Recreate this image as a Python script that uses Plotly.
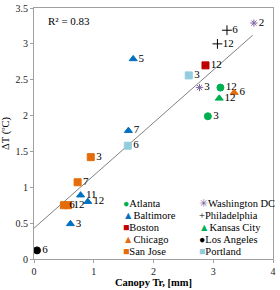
import numpy as np
import plotly.graph_objects as go

# ---- data ----
cities = ["Atlanta", "Baltimore", "Boston", "Chicago", "San Jose",
          "Washington DC", "Philadelphia", "Kansas City", "Los Angeles", "Portland"]

atlanta_x = [3.12, 2.91]
atlanta_y = [2.39, 1.99]
atlanta_lbl = ["12", "3"]

baltimore_x = [1.66, 1.58, 0.78, 0.90, 0.61]
baltimore_y = [2.79, 1.79, 0.89, 0.80, 0.49]
baltimore_lbl = ["5", "7", "11", "12", "3"]

boston_x = [2.87]
boston_y = [2.70]
boston_lbl = ["12"]

chicago_x = [3.35]
chicago_y = [2.32]
chicago_lbl = ["6"]

sanjose_x = [0.95, 0.73, 0.50, 0.57]
sanjose_y = [1.42, 1.07, 0.75, 0.75]
sanjose_lbl = ["3", "7", "6", "12"]

washington_x = [3.68, 2.77]
washington_y = [3.29, 2.39]
washington_lbl = ["2", "3"]

philadelphia_x = [3.23, 3.07]
philadelphia_y = [3.19, 3.00]
philadelphia_lbl = ["6", "12"]

kansas_x = [3.10]
kansas_y = [2.24]
kansas_lbl = ["12"]

losangeles_x = [0.05]
losangeles_y = [0.12]
losangeles_lbl = ["6"]

portland_x = [2.59, 1.57]
portland_y = [2.56, 1.58]
portland_lbl = ["3", "6"]

# linear trendline as shown in the reference
trend_slope = 0.735
trend_intercept = 0.43
trend_x_range = [0.0, 3.66]

r2_text = "R² = 0.83"
x_ticks = [0, 1, 2, 3, 4]
y_ticks = [0, 0.5, 1, 1.5, 2, 2.5, 3, 3.5]

# ---- styles ----
series = [
    ("Atlanta", atlanta_x, atlanta_y, atlanta_lbl, "circle", "#00B050", 7, "●"),
    ("Baltimore", baltimore_x, baltimore_y, baltimore_lbl, "triangle-up", "#0070C0", 7, "▲"),
    ("Boston", boston_x, boston_y, boston_lbl, "square", "#C00000", 7, "■"),
    ("Chicago", chicago_x, chicago_y, chicago_lbl, "triangle-up", "#E46C0A", 7, "▲"),
    ("San Jose", sanjose_x, sanjose_y, sanjose_lbl, "square", "#E46C0A", 7, "■"),
    ("Washington DC", washington_x, washington_y, washington_lbl, "asterisk-open", "#8064A2", 6, "✳"),
    ("Philadelphia", philadelphia_x, philadelphia_y, philadelphia_lbl, "cross-thin-open", "#000000", 7, "+"),
    ("Kansas City", kansas_x, kansas_y, kansas_lbl, "triangle-up", "#00B050", 7, "▲"),
    ("Los Angeles", losangeles_x, losangeles_y, losangeles_lbl, "circle", "#000000", 7, "●"),
    ("Portland", portland_x, portland_y, portland_lbl, "square", "#93CDDD", 7, "■"),
]

FONT = "Liberation Serif"
fig = go.Figure()

tx = np.array(trend_x_range)
fig.add_trace(go.Scatter(x=tx, y=trend_slope * tx + trend_intercept, mode="lines",
                         line=dict(color="#808080", width=1), showlegend=False,
                         hoverinfo="skip"))

for name, xs, ys, lbl, sym, col, size, glyph in series:
    fig.add_trace(go.Scatter(
        x=xs, y=ys, text=lbl, mode="markers+text", name=name,
        textposition="middle right",
        textfont=dict(family=FONT, size=11, color="#000000"),
        marker=dict(symbol=sym, color=col, size=size,
                    line=dict(color=col, width=1)),
        showlegend=False))

# legend built as text annotations in two columns
col_x = [(121 - 34) / 239, (197 - 34) / 239]
row_y = [203, 215.5, 227.5, 239.5, 251.5]
for i, (name, xs, ys, lbl, sym, col, size, glyph) in enumerate(series):
    c = i // 5
    r = i % 5
    fig.add_annotation(
        xref="paper", yref="paper", x=col_x[c], y=(258.5 - row_y[r]) / 250,
        xanchor="left", yanchor="middle", showarrow=False,
        text=f'<span style="color:{col}">{glyph}</span>{name}',
        font=dict(family=FONT, size=10.5, color="#000000"))

fig.add_annotation(xref="paper", yref="paper", x=(46 - 34) / 239, y=(258.5 - 21) / 250,
                   xanchor="left", yanchor="middle", showarrow=False,
                   text=r2_text, font=dict(family=FONT, size=11, color="#000000"))

axis_common = dict(showgrid=False, zeroline=False, showline=True, linecolor="#A0A0A0",
                   linewidth=1, mirror=True, ticks="outside", ticklen=3, automargin=False,
                   tickcolor="#A0A0A0", tickfont=dict(family=FONT, size=10, color="#222222"))

fig.update_xaxes(range=[0, 4], tickvals=x_ticks, ticktext=[str(v) for v in x_ticks],
                 title=dict(text="<b>Canopy Tr, [mm]</b>", standoff=2,
                            font=dict(family=FONT, size=10.5, color="#000000")),
                 **axis_common)
fig.update_yaxes(range=[0, 3.5], tickvals=y_ticks, ticktext=[f"{v:g}" for v in y_ticks],
                 title=dict(text="ΔT (ºC)", standoff=4,
                            font=dict(family=FONT, size=10.5, color="#000000")),
                 **axis_common)

fig.update_layout(width=280, height=290, margin=dict(l=34, r=7, t=8, b=31),
                  plot_bgcolor="white", paper_bgcolor="white", showlegend=False)

fig.write_html("out.html", config={"displayModeBar": False},
               post_script="document.body.style.margin='0px';")
